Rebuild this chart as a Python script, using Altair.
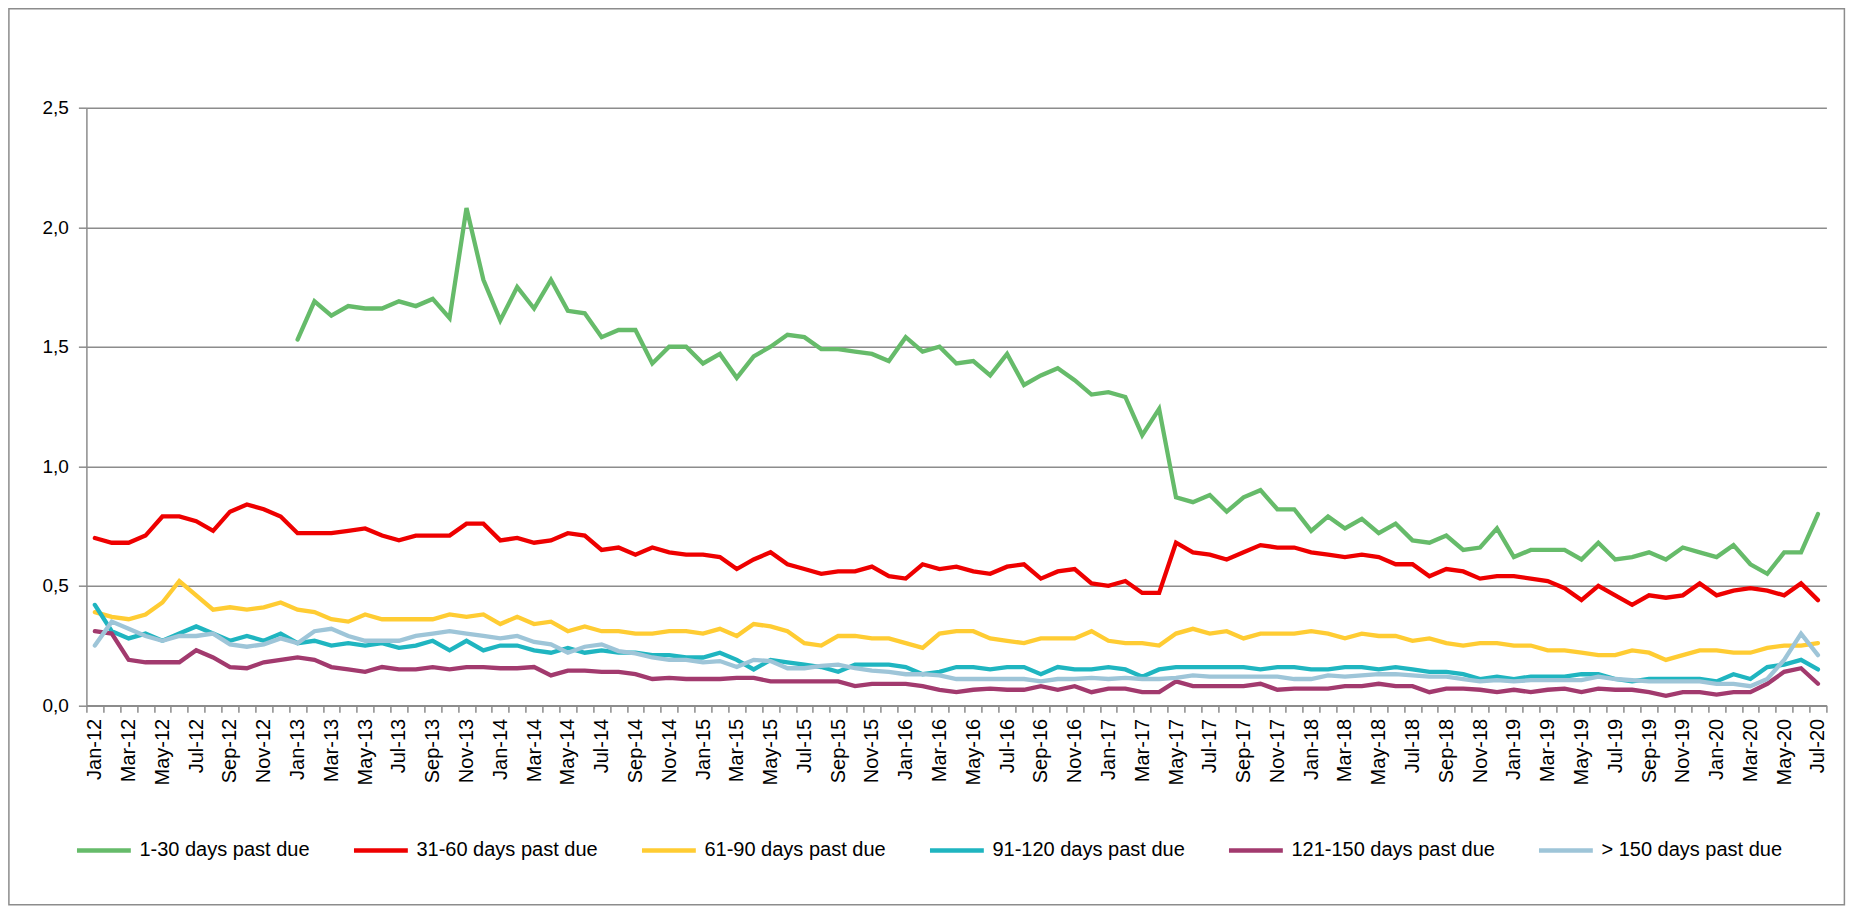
import altair as alt
import pandas as pd

MONTH_ABBR = ["Jan", "Feb", "Mar", "Apr", "May", "Jun", "Jul", "Aug", "Sep", "Oct", "Nov", "Dec"]
YEARS = ["12", "13", "14", "15", "16", "17", "18", "19", "20"]
months = [f"{m}-{y}" for y in YEARS for m in MONTH_ABBR][:103]
shown_labels = months[::2]

series_names = [
    "1-30 days past due",
    "31-60 days past due",
    "61-90 days past due",
    "91-120 days past due",
    "121-150 days past due",
    "> 150 days past due",
]
colors = ["#66BB6A", "#EE0000", "#FFCC33", "#1FB5C0", "#A23A6E", "#9EC5D8"]

d1_30 = [None] * 12 + [
    1.53, 1.69, 1.63, 1.67, 1.66, 1.66, 1.69, 1.67, 1.70, 1.62, 2.08, 1.78,
    1.61, 1.75, 1.66, 1.78, 1.65, 1.64, 1.54, 1.57, 1.57, 1.43, 1.50, 1.50,
    1.43, 1.47, 1.37, 1.46, 1.50, 1.55, 1.54, 1.49, 1.49, 1.48, 1.47, 1.44,
    1.54, 1.48, 1.50, 1.43, 1.44, 1.38, 1.47, 1.34, 1.38, 1.41, 1.36, 1.30,
    1.31, 1.29, 1.13, 1.24, 0.87, 0.85, 0.88, 0.81, 0.87, 0.90, 0.82, 0.82,
    0.73, 0.79, 0.74, 0.78, 0.72, 0.76, 0.69, 0.68, 0.71, 0.65, 0.66, 0.74,
    0.62, 0.65, 0.65, 0.65, 0.61, 0.68, 0.61, 0.62, 0.64, 0.61, 0.66, 0.64,
    0.62, 0.67, 0.59, 0.55, 0.64, 0.64, 0.80,
]
d31_60 = [
    0.70, 0.68, 0.68, 0.71, 0.79, 0.79, 0.77, 0.73, 0.81, 0.84, 0.82, 0.79,
    0.72, 0.72, 0.72, 0.73, 0.74, 0.71, 0.69, 0.71, 0.71, 0.71, 0.76, 0.76,
    0.69, 0.70, 0.68, 0.69, 0.72, 0.71, 0.65, 0.66, 0.63, 0.66, 0.64, 0.63,
    0.63, 0.62, 0.57, 0.61, 0.64, 0.59, 0.57, 0.55, 0.56, 0.56, 0.58, 0.54,
    0.53, 0.59, 0.57, 0.58, 0.56, 0.55, 0.58, 0.59, 0.53, 0.56, 0.57, 0.51,
    0.50, 0.52, 0.47, 0.47, 0.68, 0.64, 0.63, 0.61, 0.64, 0.67, 0.66, 0.66,
    0.64, 0.63, 0.62, 0.63, 0.62, 0.59, 0.59, 0.54, 0.57, 0.56, 0.53, 0.54,
    0.54, 0.53, 0.52, 0.49, 0.44, 0.50, 0.46, 0.42, 0.46, 0.45, 0.46, 0.51,
    0.46, 0.48, 0.49, 0.48, 0.46, 0.51, 0.44,
]
d61_90 = [
    0.39, 0.37, 0.36, 0.38, 0.43, 0.52, 0.46, 0.40, 0.41, 0.40, 0.41, 0.43,
    0.40, 0.39, 0.36, 0.35, 0.38, 0.36, 0.36, 0.36, 0.36, 0.38, 0.37, 0.38,
    0.34, 0.37, 0.34, 0.35, 0.31, 0.33, 0.31, 0.31, 0.30, 0.30, 0.31, 0.31,
    0.30, 0.32, 0.29, 0.34, 0.33, 0.31, 0.26, 0.25, 0.29, 0.29, 0.28, 0.28,
    0.26, 0.24, 0.30, 0.31, 0.31, 0.28, 0.27, 0.26, 0.28, 0.28, 0.28, 0.31,
    0.27, 0.26, 0.26, 0.25, 0.30, 0.32, 0.30, 0.31, 0.28, 0.30, 0.30, 0.30,
    0.31, 0.30, 0.28, 0.30, 0.29, 0.29, 0.27, 0.28, 0.26, 0.25, 0.26, 0.26,
    0.25, 0.25, 0.23, 0.23, 0.22, 0.21, 0.21, 0.23, 0.22, 0.19, 0.21, 0.23,
    0.23, 0.22, 0.22, 0.24, 0.25, 0.25, 0.26,
]
d91_120 = [
    0.42, 0.31, 0.28, 0.30, 0.27, 0.30, 0.33, 0.30, 0.27, 0.29, 0.27, 0.30,
    0.26, 0.27, 0.25, 0.26, 0.25, 0.26, 0.24, 0.25, 0.27, 0.23, 0.27, 0.23,
    0.25, 0.25, 0.23, 0.22, 0.24, 0.22, 0.23, 0.22, 0.22, 0.21, 0.21, 0.20,
    0.20, 0.22, 0.19, 0.15, 0.19, 0.18, 0.17, 0.16, 0.14, 0.17, 0.17, 0.17,
    0.16, 0.13, 0.14, 0.16, 0.16, 0.15, 0.16, 0.16, 0.13, 0.16, 0.15, 0.15,
    0.16, 0.15, 0.12, 0.15, 0.16, 0.16, 0.16, 0.16, 0.16, 0.15, 0.16, 0.16,
    0.15, 0.15, 0.16, 0.16, 0.15, 0.16, 0.15, 0.14, 0.14, 0.13, 0.11, 0.12,
    0.11, 0.12, 0.12, 0.12, 0.13, 0.13, 0.11, 0.10, 0.11, 0.11, 0.11, 0.11,
    0.10, 0.13, 0.11, 0.16, 0.17, 0.19, 0.15,
]
d121_150 = [
    0.31, 0.30, 0.19, 0.18, 0.18, 0.18, 0.23, 0.20, 0.16, 0.155, 0.18, 0.19,
    0.20, 0.19, 0.16, 0.15, 0.14, 0.16, 0.15, 0.15, 0.16, 0.15, 0.16, 0.16,
    0.155, 0.155, 0.16, 0.125, 0.145, 0.145, 0.14, 0.14, 0.13, 0.11, 0.115, 0.11,
    0.11, 0.11, 0.115, 0.115, 0.10, 0.10, 0.10, 0.10, 0.10, 0.08, 0.09, 0.09,
    0.09, 0.08, 0.065, 0.055, 0.065, 0.07, 0.065, 0.065, 0.08, 0.065, 0.08, 0.055,
    0.07, 0.07, 0.055, 0.055, 0.10, 0.08, 0.08, 0.08, 0.08, 0.09, 0.065, 0.07,
    0.07, 0.07, 0.08, 0.08, 0.09, 0.08, 0.08, 0.055, 0.07, 0.07, 0.065, 0.055,
    0.065, 0.055, 0.065, 0.07, 0.055, 0.07, 0.065, 0.065, 0.055, 0.04, 0.055, 0.055,
    0.045, 0.055, 0.055, 0.09, 0.14, 0.155, 0.09,
]
d150_plus = [
    0.25, 0.35, 0.32, 0.29, 0.27, 0.29, 0.29, 0.30, 0.255, 0.245, 0.255, 0.28,
    0.26, 0.31, 0.32, 0.29, 0.27, 0.27, 0.27, 0.29, 0.30, 0.31, 0.30, 0.29,
    0.28, 0.29, 0.265, 0.255, 0.22, 0.245, 0.255, 0.227, 0.217, 0.20, 0.19, 0.19,
    0.18, 0.185, 0.16, 0.19, 0.185, 0.155, 0.155, 0.165, 0.17, 0.155, 0.145, 0.14,
    0.13, 0.13, 0.125, 0.11, 0.11, 0.11, 0.11, 0.11, 0.10, 0.11, 0.11, 0.115,
    0.11, 0.115, 0.11, 0.11, 0.115, 0.125, 0.12, 0.12, 0.12, 0.12, 0.12, 0.11,
    0.11, 0.125, 0.12, 0.125, 0.13, 0.13, 0.125, 0.12, 0.12, 0.11, 0.10, 0.105,
    0.10, 0.105, 0.105, 0.105, 0.105, 0.12, 0.11, 0.105, 0.10, 0.10, 0.10, 0.10,
    0.09, 0.09, 0.08, 0.11, 0.19, 0.30, 0.21,
]

all_series = [d1_30, d31_60, d61_90, d91_120, d121_150, d150_plus]

rows = []
for order, (name, vals) in enumerate(zip(series_names, all_series)):
    for m, v in zip(months, vals):
        if v is not None:
            rows.append({"month": m, "value": v, "series": name, "order": order})
df = pd.DataFrame(rows)

FONT = "Liberation Sans"
GRAY = "#8C8C8C"

label_list = "[" + ",".join(f"'{s}'" for s in shown_labels) + "]"

lines = (
    alt.Chart(df)
    .mark_line(strokeWidth=4.3, strokeJoin="miter", strokeCap="round")
    .encode(
        x=alt.X(
            "month:O",
            sort=months,
            bandPosition=0.5,
            scale=alt.Scale(type="band", domain=months, paddingInner=0, paddingOuter=0),
            axis=alt.Axis(
                title=None,
                labelAngle=270,
                labelAlign="right",
                labelBaseline="middle",
                labelExpr=f"indexof({label_list}, datum.value) >= 0 ? datum.value : ''",
                labelOverlap=False,
                labelFont=FONT,
                labelFontSize=20,
                labelColor="#000000",
                labelPadding=6,
                tickBand="extent",
                tickSize=7,
                tickColor=GRAY,
                tickWidth=1.5,
                domainColor=GRAY,
                domainWidth=1.5,
                grid=False,
            ),
        ),
        y=alt.Y(
            "value:Q",
            scale=alt.Scale(domain=[0, 2.5], nice=False, zero=True),
            axis=alt.Axis(
                title=None,
                values=[0, 0.5, 1.0, 1.5, 2.0, 2.5],
                labelExpr="replace(format(datum.value, '.1f'), '.', ',')",
                labelFont=FONT,
                labelFontSize=19,
                labelColor="#000000",
                labelPadding=10,
                tickSize=8,
                tickColor=GRAY,
                tickWidth=1.5,
                domainColor=GRAY,
                domainWidth=1.5,
                grid=True,
                gridColor=GRAY,
                gridWidth=1.5,
            ),
        ),
        color=alt.Color(
            "series:N",
            scale=alt.Scale(domain=series_names, range=colors),
            legend=alt.Legend(
                title=None,
                orient="none",
                legendX=-12,
                legendY=713,
                direction="horizontal",
                symbolType="stroke",
                symbolSize=2900,
                symbolStrokeWidth=4.5,
                labelFont=FONT,
                labelFontSize=20,
                labelColor="#000000",
                labelOffset=6,
                labelLimit=0,
                columnPadding=34,
            ),
        ),
        order=alt.Order("order:Q"),
        detail="series:N",
    )
)

frame = (
    alt.Chart(pd.DataFrame({"frame": [0]}))
    .mark_rect(filled=False, stroke=GRAY, strokeWidth=1.5)
    .encode(
        x=alt.value(-77.5),
        x2=alt.value(1758),
        y=alt.value(-99),
        y2=alt.value(797),
    )
)

chart = (
    alt.layer(frame, lines)
    .properties(
        width=1740,
        height=597.6,
        autosize=alt.AutoSizeParams(type="none"),
        padding={"left": 78.4, "top": 99.7, "right": 19.6, "bottom": 200.7},
        background="#FFFFFF",
    )
    .configure_view(stroke=None)
)

chart.save("out.html", embed_options={"renderer": "svg", "actions": False})
